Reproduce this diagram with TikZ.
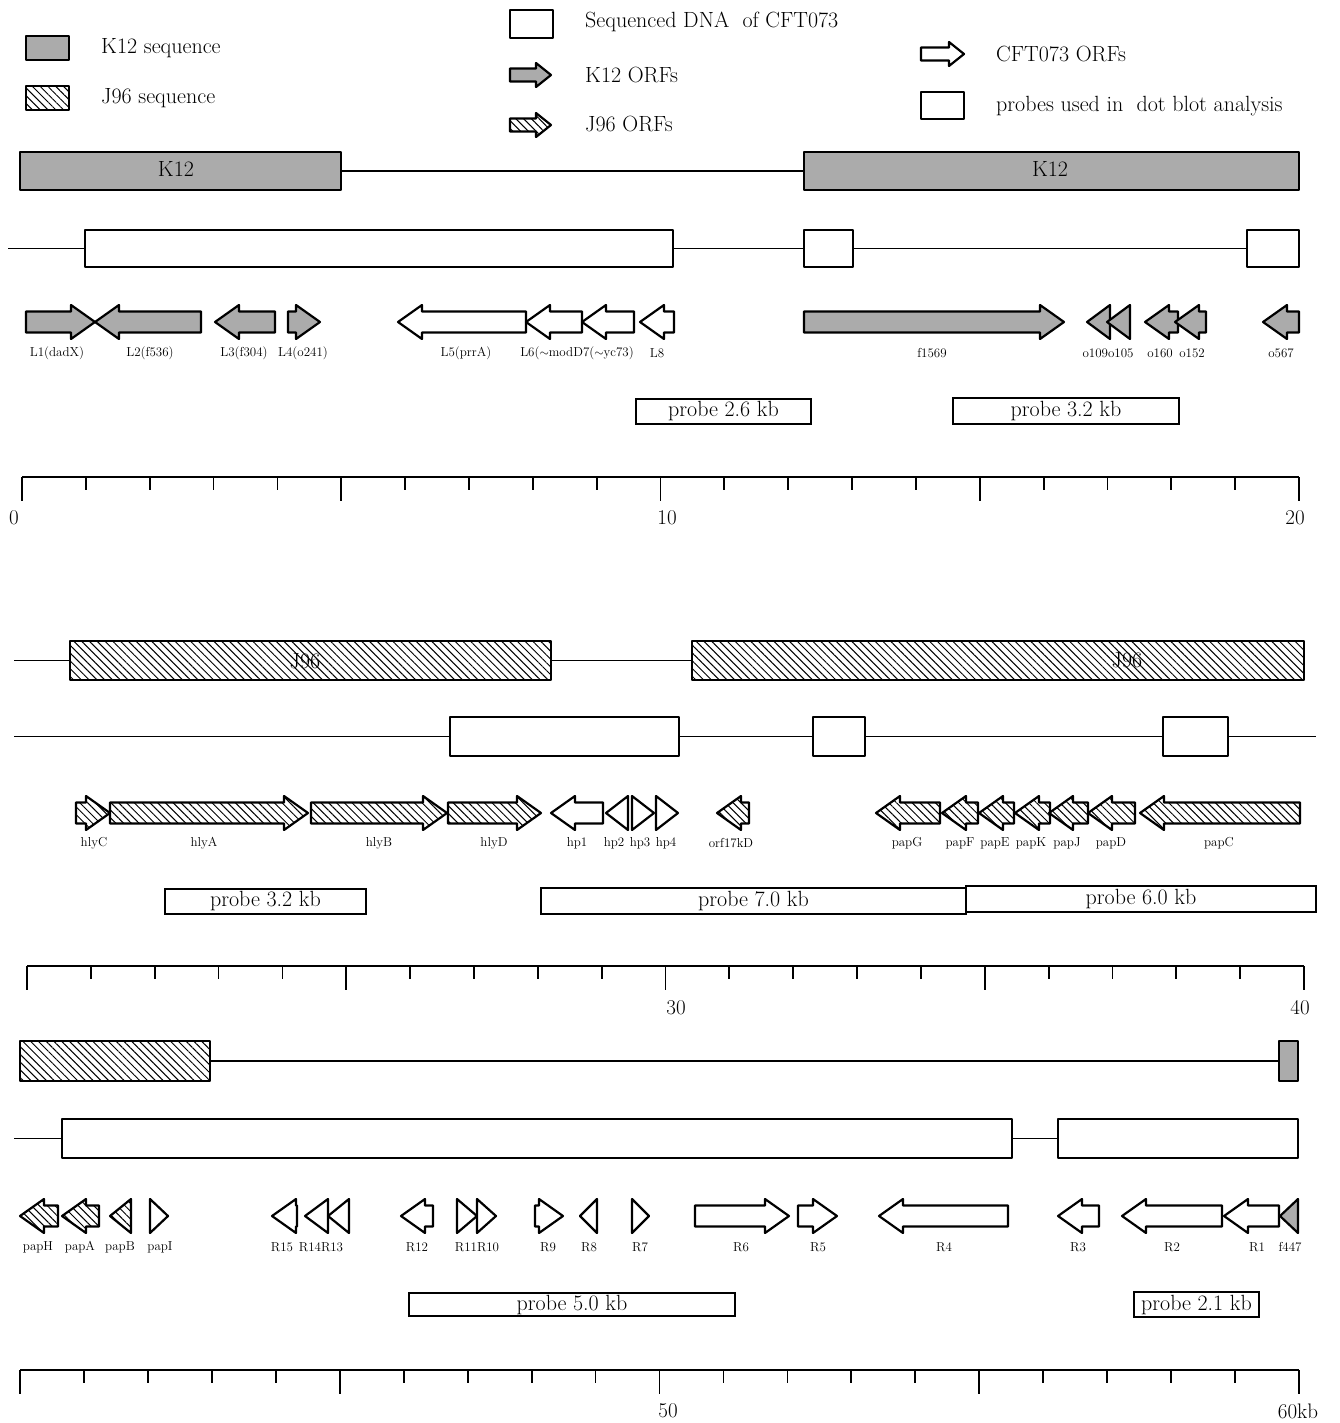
\documentclass[tikz,border=0pt]{standalone}
\usetikzlibrary{patterns.meta}
\newcommand\Ahl{24}
\newcommand\Ahw{17}
\newcommand\Abw{10.5}
\newcommand\orfR[4]{%
  \pgfmathsetmacro\orfhs{max(#2,#3-\Ahl)}%
  \draw[#1] (#2,#4-\Abw) -- (\orfhs,#4-\Abw) -- (\orfhs,#4-\Ahw) -- (#3,#4) -- (\orfhs,#4+\Ahw) -- (\orfhs,#4+\Abw) -- (#2,#4+\Abw) -- cycle;}
\newcommand\orfL[4]{%
  \pgfmathsetmacro\orfhs{min(#3,#2+\Ahl)}%
  \draw[#1] (#3,#4-\Abw) -- (\orfhs,#4-\Abw) -- (\orfhs,#4-\Ahw) -- (#2,#4) -- (\orfhs,#4+\Ahw) -- (\orfhs,#4+\Abw) -- (#3,#4+\Abw) -- cycle;}
\newcommand\bx[7]{\node[boxn,#2,minimum width={#5-#3},minimum height={#6-#4}] (#1) at ({(#3+#5)/2},{(#4+#6)/2}) {#7};}
\newcommand\scalebar[3]{%
  \draw[line width=2.8pt] (#1,#3) -- (#2,#3);
  \pgfmathsetmacro\sbstep{(#2-#1)/20}%
  \foreach \i in {0,...,20}{%
    \pgfmathsetmacro\sbtx{#1+\i*\sbstep}%
    \pgfmathsetmacro\sbtl{mod(\i,5)==0 ? 24 : 13}%
    \draw[line width=1.8pt] (\sbtx,#3) -- (\sbtx,#3+\sbtl);
  }}
\begin{document}
\begin{tikzpicture}[x=1pt,y=-1pt,
  bd/.style={draw,line width=2.2pt,line join=round},
  kfill/.style={bd,fill=black!33},
  jfill/.style={bd,pattern={Lines[angle=-45,distance=5.5pt,line width=1pt]}},
  wfill/.style={bd,fill=white},
  conn/.style={line width=1.6pt},
  lbl/.style={font=\fontsize{13}{15}\selectfont,inner sep=0pt},
  big/.style={font=\fontsize{22}{26}\selectfont,inner sep=0pt},
  num/.style={font=\fontsize{21}{25}\selectfont,inner sep=0pt},
  probe/.style={draw,line width=1.6pt,inner sep=0pt,font=\fontsize{22}{26}\selectfont},
  boxn/.style={inner sep=0pt,outer sep=0pt}]
\useasboundingbox (0,0) rectangle (1340,1423);

% ---------- legend ----------
\bx{lk}{kfill}{26}{36}{69}{60}{}
\node[big,anchor=west] (tk) at (101,48) {K12 sequence};
\bx{lj}{jfill}{26}{86}{69}{110}{}
\node[big,anchor=west] (tj) at (101,98) {J96 sequence};
\bx{ls}{wfill}{510}{10}{553}{38}{}
\node[big,anchor=west] (ts) at (585,22) {Sequenced DNA\ \ of CFT073};
{\renewcommand\Ahl{15}\renewcommand\Ahw{12}\renewcommand\Abw{6.5}%
 \orfR{kfill}{510}{551}{75}
 \orfR{jfill}{510}{551}{125}
 \orfR{wfill}{921}{964}{54}}
\node[big,anchor=west] (tko) at (585,75) {K12 ORFs};
\node[big,anchor=west] (tjo) at (585,124) {J96 ORFs};
\node[big,anchor=west] (tco) at (996,54) {CFT073 ORFs};
\bx{lp}{wfill}{921}{92}{964}{119}{}
\node[big,anchor=west] (tp) at (996,106) {probes used in\ \ dot blot analysis};

% ---------- row 1 : 0-20 kb ----------
\bx{k1}{kfill}{20}{152}{341}{190}{}
\node[big] (k1t) at (176,169) {K12};
\bx{k2}{kfill}{804}{152}{1299}{190}{}
\node[big] (k2t) at (1050,169) {K12};
\draw[conn] (k1.east) -- (k2.west);

\coordinate (a1) at (8,248.5);
\bx{s1}{wfill}{85}{230}{673}{267}{}
\bx{s2}{wfill}{804}{230}{853}{267}{}
\bx{s3}{wfill}{1247}{230}{1299}{267}{}
\draw[conn] (a1) -- (s1.west) (s1.east) -- (s2.west) (s2.east) -- (s3.west);

\orfR{kfill}{26}{95}{322}
\orfL{kfill}{95}{201}{322}
\orfL{kfill}{215}{275}{322}
\orfR{kfill}{288}{320}{322}
\orfL{wfill}{398}{526}{322}
\orfL{wfill}{526}{582}{322}
\orfL{wfill}{582}{634}{322}
\orfL{wfill}{640}{674}{322}
\orfR{kfill}{804}{1064}{322}
\orfL{kfill}{1087}{1110}{322}
\orfL{kfill}{1107}{1130}{322}
\orfL{kfill}{1145}{1178}{322}
\orfL{kfill}{1175}{1206}{322}
\orfL{kfill}{1263}{1299}{322}

\node[lbl] (nL1) at (57,353) {L1(dadX)};
\node[lbl] (nL2) at (150,353) {L2(f536)};
\node[lbl] (nL3) at (244,353) {L3(f304)};
\node[lbl] (nL4) at (303,353) {L4(o241)};
\node[lbl] (nL5) at (466,353) {L5(prrA)};
\node[lbl] (nL6) at (577,353) {L6($\sim$modD7($\sim$yc73)};
\node[lbl] (nL8) at (657,353) {L8};
\node[lbl] (nf1569) at (932,353) {f1569};
\node[lbl] (no109) at (1108,353) {o109o105};
\node[lbl] (no160) at (1160,353) {o160};
\node[lbl] (no152) at (1192,353) {o152};
\node[lbl] (no567) at (1281,353) {o567};

\node[probe,minimum width=175,minimum height=25] (p1) at (723.5,411.5) {probe 2.6 kb};
\node[probe,minimum width=226,minimum height=26] (p2) at (1066,411) {probe 3.2 kb};

\scalebar{22}{1299}{477}
\node[num] (n0) at (14,518) {0};
\node[num] (n10) at (667,518) {10};
\node[num] (n20) at (1295,518) {20};

% ---------- row 2 : 20-40 kb ----------
\coordinate (a2) at (14,660.5);
\bx{j1}{jfill}{70}{641}{551}{680}{}
\node[big] (j1t) at (305,661) {J96};
\bx{j2}{jfill}{692}{641}{1304}{680}{}
\node[big] (j2t) at (1127,660) {J96};
\draw[conn] (a2) -- (j1.west) (j1.east) -- (j2.west);

\coordinate (b2) at (14,736.5);
\bx{s4}{wfill}{450}{717}{679}{756}{}
\bx{s5}{wfill}{813}{717}{865}{756}{}
\bx{s6}{wfill}{1163}{717}{1228}{756}{}
\coordinate (c2) at (1316,736.5);
\draw[conn] (b2) -- (s4.west) (s4.east) -- (s5.west) (s5.east) -- (s6.west) (s6.east) -- (c2);

\orfR{jfill}{76}{110}{813}
\orfR{jfill}{110}{308}{813}
\orfR{jfill}{311}{447}{813}
\orfR{jfill}{448}{541}{813}
\orfL{wfill}{551}{603}{813}
\orfL{wfill}{606}{628}{813}
\orfR{wfill}{632}{654}{813}
\orfR{wfill}{656}{678}{813}
\orfL{jfill}{717}{749}{813}
\orfL{jfill}{876}{940}{813}
\orfL{jfill}{942}{978}{813}
\orfL{jfill}{979}{1014}{813}
\orfL{jfill}{1015}{1050}{813}
\orfL{jfill}{1049}{1088}{813}
\orfL{jfill}{1088}{1135}{813}
\orfL{jfill}{1140}{1300}{813}

\node[lbl] (nhlyC) at (94,843) {hlyC};
\node[lbl] (nhlyA) at (204,843) {hlyA};
\node[lbl] (nhlyB) at (379,843) {hlyB};
\node[lbl] (nhlyD) at (494,843) {hlyD};
\node[lbl] (nhp1) at (577,843) {hp1};
\node[lbl] (nhp2) at (614,843) {hp2};
\node[lbl] (nhp3) at (640,843) {hp3};
\node[lbl] (nhp4) at (666,843) {hp4};
\node[lbl] (norf) at (731,843) {orf17kD};
\node[lbl] (npapG) at (907,843) {papG};
\node[lbl] (npapF) at (960,843) {papF};
\node[lbl] (npapE) at (995,843) {papE};
\node[lbl] (npapK) at (1031,843) {papK};
\node[lbl] (npapJ) at (1067,843) {papJ};
\node[lbl] (npapD) at (1111,843) {papD};
\node[lbl] (npapC) at (1219,843) {papC};

\node[probe,minimum width=201,minimum height=25] (p3) at (265.5,901.5) {probe 3.2 kb};
\node[probe,minimum width=425,minimum height=26] (p4) at (753.5,901) {probe 7.0 kb};
\node[probe,minimum width=350,minimum height=26] (p5) at (1141,899) {probe 6.0 kb};

\scalebar{27}{1304}{966}
\node[num] (n30) at (676,1008) {30};
\node[num] (n40) at (1300,1008) {40};

% ---------- row 3 : 40-60 kb ----------
\bx{j3}{jfill}{20}{1041}{210}{1081}{}
\bx{k3}{kfill}{1279}{1041}{1298}{1081}{}
\draw[conn] (j3.east) -- (k3.west);

\coordinate (b3) at (14,1138.5);
\bx{s7}{wfill}{62}{1119}{1012}{1158}{}
\bx{s8}{wfill}{1058}{1119}{1298}{1158}{}
\draw[conn] (b3) -- (s7.west) (s7.east) -- (s8.west);

\orfL{jfill}{20}{58}{1216}
\orfL{jfill}{62}{99}{1216}
\orfL{jfill}{110}{131}{1216}
\orfR{wfill}{150}{168}{1216}
\orfL{wfill}{272}{297}{1216}
\orfL{wfill}{305}{328}{1216}
\orfL{wfill}{328}{349}{1216}
\orfL{wfill}{401}{433}{1216}
\orfR{wfill}{457}{477}{1216}
\orfR{wfill}{477}{496}{1216}
\orfR{wfill}{535}{563}{1216}
\orfL{wfill}{580}{597}{1216}
\orfR{wfill}{632}{649}{1216}
\orfR{wfill}{695}{789}{1216}
\orfR{wfill}{798}{837}{1216}
\orfL{wfill}{879}{1008}{1216}
\orfL{wfill}{1058}{1099}{1216}
\orfL{wfill}{1122}{1222}{1216}
\orfL{wfill}{1224}{1279}{1216}
\orfL{kfill}{1280}{1298}{1216}

\node[lbl] (npapH) at (38,1247) {papH};
\node[lbl] (npapA) at (80,1247) {papA};
\node[lbl] (npapB) at (120,1247) {papB};
\node[lbl] (npapI) at (160,1247) {papI};
\node[lbl] (nR15) at (282,1247) {R15};
\node[lbl] (nR14) at (321,1247) {R14R13};
\node[lbl] (nR12) at (417,1247) {R12};
\node[lbl] (nR11) at (477,1247) {R11R10};
\node[lbl] (nR9) at (548,1247) {R9};
\node[lbl] (nR8) at (589,1247) {R8};
\node[lbl] (nR7) at (640,1247) {R7};
\node[lbl] (nR6) at (741,1247) {R6};
\node[lbl] (nR5) at (818,1247) {R5};
\node[lbl] (nR4) at (944,1247) {R4};
\node[lbl] (nR3) at (1078,1247) {R3};
\node[lbl] (nR2) at (1172,1247) {R2};
\node[lbl] (nR1) at (1257,1247) {R1};
\node[lbl] (nf447) at (1290,1247) {f447};

\node[probe,minimum width=326,minimum height=23] (p6) at (572,1304.5) {probe 5.0 kb};
\node[probe,minimum width=125,minimum height=25] (p7) at (1196.5,1304.5) {probe 2.1 kb};

\scalebar{20}{1299}{1370}
\node[num] (n50) at (668,1411) {50};
\node[num] (n60) at (1298,1411) {60kb};
\end{tikzpicture}
\end{document}
